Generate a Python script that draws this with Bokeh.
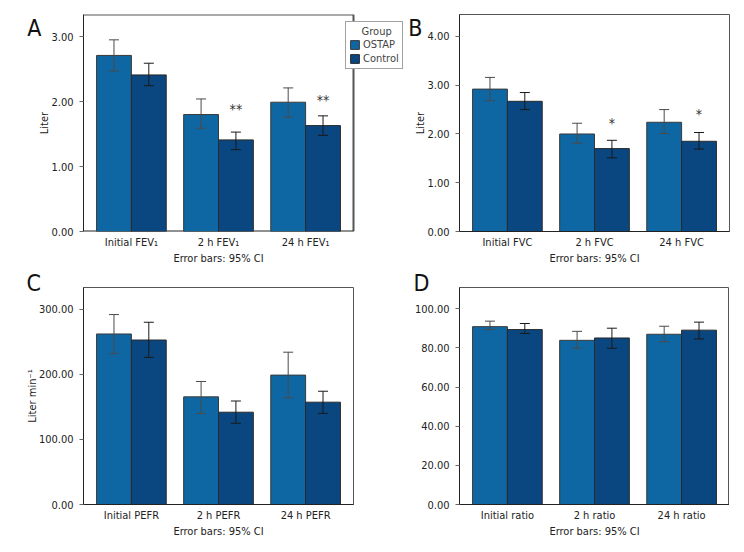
from bokeh.plotting import figure
from bokeh.models import (Range1d, FixedTicker, Whisker, ColumnDataSource, LinearAxis,
                          Legend, LegendItem, TeeHead, NumeralTickFormatter)
from bokeh.layouts import gridplot
from bokeh.core.properties import value
from bokeh.embed import file_html
from bokeh.resources import INLINE

FONT = "'DejaVu Sans Condensed', 'Liberation Sans', sans-serif"
C_OSTAP = "#0e67a3"
C_CTRL = "#0a4680"

groups = ["OSTAP", "Control"]
legend_title = "Group"
note = "Error bars: 95% CI"

# Panel A: FEV1 (Liter)
cats_A = ["Initial FEV\u2081", "2 h FEV\u2081", "24 h FEV\u2081"]
ostap_A = [2.71, 1.80, 1.99]
ostap_A_lo = [2.47, 1.59, 1.76]
ostap_A_hi = [2.95, 2.04, 2.21]
control_A = [2.41, 1.41, 1.63]
control_A_lo = [2.245, 1.26, 1.48]
control_A_hi = [2.59, 1.53, 1.78]
stars_A = ["", "**", "**"]
stars_A_y = [0, 1.886, 2.03]
yticks_A = [0, 1, 2, 3]

# Panel B: FVC (Liter)
cats_B = ["Initial FVC", "2 h FVC", "24 h FVC"]
ostap_B = [2.92, 2.00, 2.24]
ostap_B_lo = [2.68, 1.81, 2.01]
ostap_B_hi = [3.16, 2.22, 2.50]
control_B = [2.67, 1.70, 1.85]
control_B_lo = [2.50, 1.51, 1.69]
control_B_hi = [2.85, 1.87, 2.03]
stars_B = ["", "*", "*"]
stars_B_y = [0, 2.235, 2.41]
yticks_B = [0, 1, 2, 3, 4]

# Panel C: PEFR (Liter min-1)
cats_C = ["Initial PEFR", "2 h PEFR", "24 h PEFR"]
ostap_C = [262.0, 165.4, 198.8]
ostap_C_lo = [231.7, 140.0, 163.9]
ostap_C_hi = [291.8, 189.0, 234.0]
control_C = [252.7, 141.8, 157.2]
control_C_lo = [226.0, 124.8, 140.0]
control_C_hi = [280.0, 159.0, 174.0]
yticks_C = [0, 100, 200, 300]

# Panel D: ratio
cats_D = ["Initial ratio", "2 h ratio", "24 h ratio"]
ostap_D = [90.9, 83.9, 87.0]
ostap_D_lo = [89.4, 79.8, 83.2]
ostap_D_hi = [93.7, 88.5, 91.1]
control_D = [89.4, 85.1, 89.1]
control_D_lo = [87.4, 79.8, 84.6]
control_D_hi = [92.5, 90.1, 93.2]
yticks_D = [0, 20, 40, 60, 80, 100]

XL, XR = -0.55, 2.55
BW = 0.4
BOX_W = 270  # px width of the plot box


def style_text_axis(ax, size="11px"):
    ax.major_label_text_font = FONT
    ax.major_label_text_font_size = size
    ax.major_label_text_color = "#222222"
    ax.axis_label_text_font = FONT
    ax.axis_label_text_font_size = "11px"
    ax.axis_label_text_color = "#222222"


def make_panel(letter, cats, o, olo, ohi, c, clo, chi, ymax, yticks, ylabel,
               bl, br, bt, bb, letter_mode, letter_pos, stars=None, stars_y=None,
               legend=False, extend=0):
    px_per_unit = BOX_W / (XR - XL)
    xr_end = XR + extend / px_per_unit
    p = figure(frame_width=BOX_W + extend, frame_height=217, output_backend="svg",
               toolbar_location=None, x_range=Range1d(XL, xr_end),
               y_range=Range1d(0, ymax),
               min_border_left=bl, min_border_right=br,
               min_border_top=bt, min_border_bottom=bb)
    p.background_fill_color = "white"
    p.border_fill_color = "white"
    p.xgrid.visible = False
    p.ygrid.visible = False
    if extend:
        # frame is wider than the plot box: draw the box edges explicitly
        p.outline_line_color = None
        p.segment(x0=[XL, XR], y0=[ymax, 0], x1=[XR, XR], y1=[ymax, ymax],
                  line_color="#555555", line_width=2)
        p.segment(x0=[XL], y0=[0], x1=[XR], y1=[0], line_color="#222222", line_width=2)
    else:
        p.outline_line_color = "#555555"
        p.outline_line_width = 1

    idx = list(range(len(cats)))
    xo = [i - BW / 2 for i in idx]
    xc = [i + BW / 2 for i in idx]
    so = ColumnDataSource(dict(x=xo, top=o, lo=olo, hi=ohi))
    sc = ColumnDataSource(dict(x=xc, top=c, lo=clo, hi=chi))
    ro = p.vbar(x="x", top="top", width=BW, source=so, fill_color=C_OSTAP,
                line_color="#3a3a3a", line_width=1)
    rc = p.vbar(x="x", top="top", width=BW, source=sc, fill_color=C_CTRL,
                line_color="#2a2a2a", line_width=1)
    for src, col in ((so, "#4a4a4a"), (sc, "#1a1a1a")):
        w = Whisker(source=src, base="x", upper="hi", lower="lo",
                    line_color=col, line_width=1, level="annotation",
                    upper_head=TeeHead(size=10, line_color=col, line_width=1),
                    lower_head=TeeHead(size=10, line_color=col, line_width=1))
        p.add_layout(w)

    if stars:
        p.text(x=xc, y=stars_y, text=stars, text_align="center",
               text_baseline="middle", text_font=value(FONT),
               text_font_size="14px", text_color="#333333")

    # x axis: category labels
    p.xaxis.ticker = FixedTicker(ticks=idx)
    p.xaxis.major_label_overrides = {i: cats[i] for i in idx}
    p.xaxis.major_tick_line_color = None
    p.xaxis.major_tick_out = 0
    p.xaxis.minor_tick_line_color = None
    p.xaxis.axis_line_color = None if extend else "#222222"
    p.xaxis.major_label_standoff = 4
    style_text_axis(p.xaxis[0])

    # second bottom axis carrying the note, centred under the middle category
    nx = LinearAxis(ticker=FixedTicker(ticks=[idx[1]]),
                    major_label_overrides={idx[1]: note})
    nx.axis_line_color = None
    nx.major_tick_line_color = None
    nx.minor_tick_line_color = None
    nx.major_tick_out = 0
    nx.major_tick_in = 0
    nx.major_label_standoff = 0
    style_text_axis(nx)
    p.add_layout(nx, "below")

    p.yaxis.ticker = FixedTicker(ticks=yticks)
    p.yaxis.formatter = NumeralTickFormatter(format="0.00")
    p.yaxis.major_tick_out = 4
    p.yaxis.major_tick_in = 0
    p.yaxis.major_tick_line_color = "#666666"
    p.yaxis.minor_tick_line_color = None
    p.yaxis.axis_line_color = "#222222"
    p.yaxis.major_label_standoff = 6
    if ylabel:
        p.yaxis.axis_label = ylabel
        p.yaxis.axis_label_standoff = -3
        p.yaxis.axis_label_text_font_style = "normal"
    style_text_axis(p.yaxis[0])

    # panel letter
    if letter_mode == "axis":
        v, standoff = letter_pos
        p.extra_y_ranges = {"letter": Range1d(0, 1)}
        la = LinearAxis(y_range_name="letter", ticker=FixedTicker(ticks=[v]),
                        major_label_overrides={v: letter})
        la.axis_line_color = None
        la.major_tick_line_color = None
        la.minor_tick_line_color = None
        la.major_tick_out = 0
        la.major_tick_in = 0
        la.major_label_standoff = standoff
        la.major_label_text_font = FONT
        la.major_label_text_font_size = "23px"
        la.major_label_text_color = "#111111"
        p.add_layout(la, "left")
    else:
        offset, standoff = letter_pos
        p.title.text = letter
        p.title.align = "left"
        p.title.offset = offset
        p.title.standoff = standoff
        p.title.text_font = FONT
        p.title.text_font_size = "23px"
        p.title.text_font_style = "normal"
        p.title.text_color = "#111111"

    if legend:
        lg = Legend(items=[LegendItem(label=groups[0], renderers=[ro]),
                           LegendItem(label=groups[1], renderers=[rc])],
                    title="\u2007\u2007" + legend_title, location=(262, 162))
        lg.title_text_font = FONT
        lg.title_text_font_size = "11px"
        lg.title_text_font_style = "normal"
        lg.title_standoff = 0
        lg.label_text_font = FONT
        lg.label_text_font_size = "11px"
        lg.label_height = 12
        lg.label_width = 0
        lg.glyph_width = 11
        lg.glyph_height = 11
        lg.label_standoff = 3
        lg.padding = 3
        lg.spacing = 1
        lg.margin = 0
        lg.border_line_color = "#444444"
        lg.background_fill_alpha = 1
        p.add_layout(lg, "center")
    return p


pA = make_panel("A", cats_A, ostap_A, ostap_A_lo, ostap_A_hi, control_A, control_A_lo,
                control_A_hi, 3.34, yticks_A, "Liter", 83, 0, 14, 35,
                "axis", (0.9355, -6), stars_A, stars_A_y, legend=True, extend=52)
pB = make_panel("B", cats_B, ostap_B, ostap_B_lo, ostap_B_hi, control_B, control_B_lo,
                control_B_hi, 4.45, yticks_B, "Liter", 52, 2, 14, 35,
                "axis", (0.9355, -11), stars_B, stars_B_y)
pC = make_panel("C", cats_C, ostap_C, ostap_C_lo, ostap_C_hi, control_C, control_C_lo,
                control_C_hi, 333.4, yticks_C, "Liter min\u207b\u00b9", 83, 52, 20, 40,
                "title", (-57, -16))
pD = make_panel("D", cats_D, ostap_D, ostap_D_lo, ostap_D_hi, control_D, control_D_lo,
                control_D_hi, 110.9, yticks_D, None, 52, 2, 20, 40,
                "title", (-46, -16))

grid = gridplot([[pA, pB], [pC, pD]], toolbar_location=None)

open("out.html", "w").write(file_html(grid, INLINE))
